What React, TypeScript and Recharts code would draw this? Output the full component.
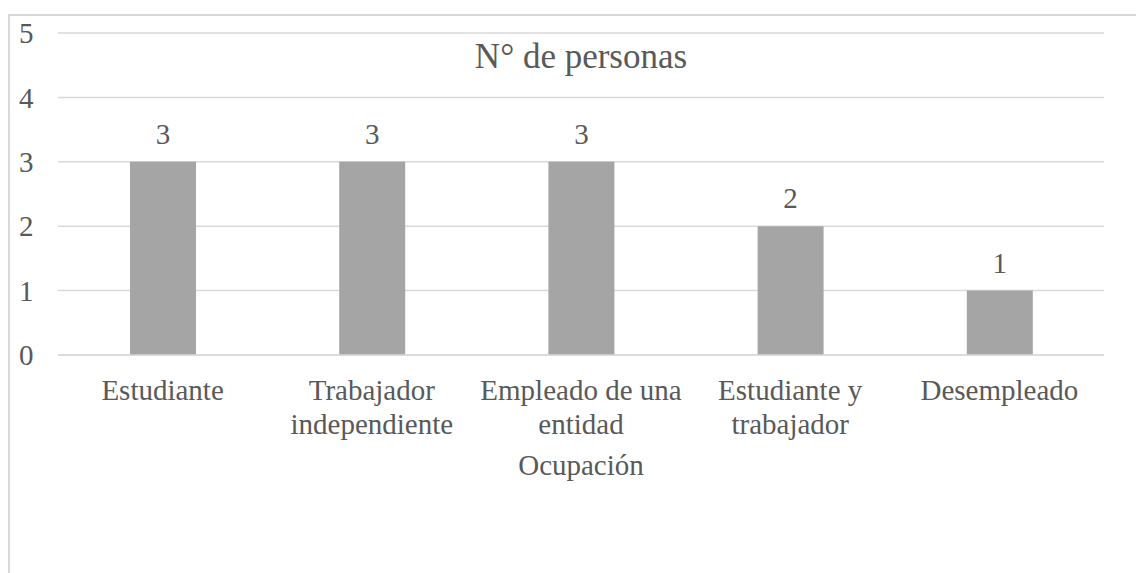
import { BarChart, Bar, XAxis, YAxis, CartesianGrid, LabelList } from 'recharts';

// Ocupación de los encuestados
const categories = [
  'Estudiante',
  'Trabajador independiente',
  'Empleado de una entidad',
  'Estudiante y trabajador',
  'Desempleado',
];
const categoryLines = [
  ['Estudiante'],
  ['Trabajador', 'independiente'],
  ['Empleado de una', 'entidad'],
  ['Estudiante y', 'trabajador'],
  ['Desempleado'],
];
const personas = [3, 3, 3, 2, 1];
const yTicks = [0, 1, 2, 3, 4, 5];

const data = categories.map((c, i) => ({ ocupacion: c, personas: personas[i] }));

const FONT = 'Liberation Serif, DejaVu Serif, serif';
const TEXT = '#595959';
const GRID = '#d9d9d9';

const CategoryTick = ({ x, y, payload }: any) => {
  const idx = categories.indexOf(payload.value);
  const lines = idx >= 0 ? categoryLines[idx] : [payload.value];
  return (
    <text x={x} y={y} textAnchor="middle" fill={TEXT} style={{ fontFamily: FONT, fontSize: 29 }}>
      {lines.map((l: string, i: number) => (
        <tspan key={i} x={x} dy={i === 0 ? 45 : 34}>
          {l}
        </tspan>
      ))}
    </text>
  );
};

const ValueTick = ({ y, payload }: any) => (
  <text x={9} y={y} dy="0.35em" textAnchor="start" fill={TEXT} style={{ fontFamily: FONT, fontSize: 29 }}>
    {payload.value}
  </text>
);

export default function App() {
  return (
    <div
      style={{
        position: 'fixed',
        left: 8,
        top: 14,
        width: 1128,
        height: 560,
        borderTop: `2px solid ${GRID}`,
        borderLeft: `2px solid ${GRID}`,
        background: '#fff',
        fontFamily: FONT,
      }}
    >
      <BarChart
        width={1126}
        height={557}
        data={data}
        margin={{ top: 17, right: 32, left: 0, bottom: 98 }}
        style={{ fontFamily: FONT }}
      >
        <CartesianGrid vertical={false} stroke={GRID} strokeWidth={1.5} />
        <XAxis
          dataKey="ocupacion"
          height={120}
          axisLine={{ stroke: GRID, strokeWidth: 1.5 }}
          tickLine={false}
          tickSize={0}
          tickMargin={0}
          interval={0}
          tick={<CategoryTick />}
          label={{
            value: 'Ocupación',
            position: 'insideBottom',
            offset: 0,
            fill: TEXT,
            style: { fontFamily: FONT, fontSize: 29 },
          }}
        />
        <YAxis
          width={48}
          domain={[0, 5]}
          ticks={yTicks}
          axisLine={false}
          tickLine={false}
          tick={<ValueTick />}
        />
        <Bar dataKey="personas" fill="#a5a5a5" barSize={66} isAnimationActive={false}>
          <LabelList
            dataKey="personas"
            position="top"
            offset={18}
            fill={TEXT}
            style={{ fontFamily: FONT, fontSize: 29 }}
          />
        </Bar>
        <text x={571} y={52} textAnchor="middle" fill={TEXT} style={{ fontFamily: FONT, fontSize: 35 }}>
          N° de personas
        </text>
      </BarChart>
    </div>
  );
}
